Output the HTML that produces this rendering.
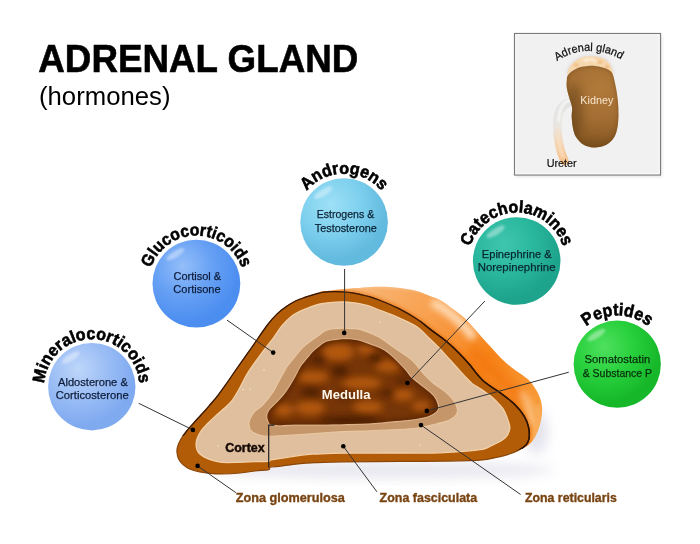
<!DOCTYPE html>
<html><head><meta charset="utf-8"><style>
html,body{margin:0;padding:0;background:#fff;width:700px;height:544px;overflow:hidden}
svg{display:block;will-change:transform}
</style></head><body>
<svg width="700" height="544" viewBox="0 0 700 544" font-family="Liberation Sans, sans-serif">
<defs>
<filter id="blur1" x="-50%" y="-50%" width="200%" height="200%"><feGaussianBlur stdDeviation="1"/></filter>
<filter id="blur15" x="-50%" y="-50%" width="200%" height="200%"><feGaussianBlur stdDeviation="1.5"/></filter>
<filter id="blur3" x="-50%" y="-50%" width="200%" height="200%"><feGaussianBlur stdDeviation="3"/></filter>
<filter id="blur4" x="-50%" y="-50%" width="200%" height="200%"><feGaussianBlur stdDeviation="4"/></filter>
<filter id="blur6" x="-50%" y="-50%" width="200%" height="200%"><feGaussianBlur stdDeviation="6"/></filter>
<linearGradient id="gor" x1="360" y1="285" x2="530" y2="430" gradientUnits="userSpaceOnUse">
<stop offset="0" stop-color="#f8b676"/><stop offset="0.32" stop-color="#f8a04e"/><stop offset="0.65" stop-color="#f7841a"/><stop offset="1" stop-color="#f8a040"/></linearGradient>
<radialGradient id="gkid" cx="600" cy="88" r="62" gradientUnits="userSpaceOnUse">
<stop offset="0" stop-color="#b07a3a"/><stop offset="0.5" stop-color="#a36e33"/><stop offset="1" stop-color="#80531f"/></radialGradient>
<clipPath id="ckid"><path d="M568.0,75.0 C569.2,73.3 572.0,71.3 574.0,70.0 C576.0,68.7 577.7,67.9 580.0,67.2 C582.3,66.5 585.5,66.2 588.0,66.0 C590.5,65.8 592.7,65.8 595.0,66.0 C597.3,66.2 599.8,66.6 602.0,67.2 C604.2,67.8 606.2,68.5 608.0,69.6 C609.8,70.7 611.3,71.3 612.6,74.0 C613.9,76.7 614.7,81.7 615.6,86.0 C616.5,90.3 617.3,95.2 617.8,100.0 C618.3,104.8 618.6,110.0 618.5,115.0 C618.4,120.0 618.0,125.6 617.0,129.7 C616.0,133.8 614.8,136.8 612.6,139.5 C610.4,142.2 607.2,144.5 604.0,145.8 C600.8,147.1 597.0,147.6 593.5,147.4 C590.0,147.2 586.1,146.1 583.2,144.4 C580.3,142.7 577.7,139.7 576.0,137.0 C574.3,134.3 573.7,131.5 573.0,128.2 C572.3,124.9 571.9,120.5 571.7,117.0 C571.5,113.5 572.5,110.3 572.0,107.0 C571.5,103.7 569.9,100.2 569.0,97.0 C568.1,93.8 567.2,90.8 566.8,88.0 C566.4,85.2 566.6,82.2 566.8,80.0 C567.0,77.8 566.8,76.7 568.0,75.0Z"/></clipPath>
<linearGradient id="gure" x1="0" y1="100" x2="0" y2="162" gradientUnits="userSpaceOnUse">
<stop offset="0" stop-color="#e2e2e2"/><stop offset="0.45" stop-color="#e9e5e0"/><stop offset="0.75" stop-color="#f3d2ae"/><stop offset="1" stop-color="#f6c08a"/></linearGradient>
<clipPath id="cmed"><path d="M267.5,414.9 C267.9,412.9 268.8,411.3 270.5,409.1 C272.2,406.9 275.1,404.6 277.8,401.7 C280.5,398.8 283.9,395.1 286.6,391.4 C289.3,387.7 291.7,383.6 294.0,379.6 C296.3,375.6 298.7,370.4 300.4,367.5 C302.1,364.6 302.8,364.1 304.1,362.4 C305.5,360.7 307.0,358.9 308.5,357.2 C310.0,355.5 311.3,353.7 312.9,352.1 C314.5,350.5 316.1,349.2 318.1,347.6 C320.1,346.0 322.9,343.6 325.0,342.5 C327.1,341.4 328.7,341.3 331.0,340.8 C333.3,340.3 335.9,339.9 338.6,339.7 C341.3,339.4 344.2,339.2 347.1,339.3 C350.0,339.4 352.4,339.4 355.7,340.1 C359.0,340.8 362.3,341.8 367.0,343.5 C371.7,345.2 379.1,347.5 383.8,350.2 C388.5,352.9 391.5,356.2 395.0,359.5 C398.5,362.8 402.1,366.7 404.9,369.8 C407.7,372.9 409.1,375.6 411.6,378.1 C414.1,380.6 417.1,382.5 419.8,384.7 C422.6,386.9 425.6,389.1 428.1,391.3 C430.6,393.5 433.1,395.4 434.7,397.9 C436.3,400.4 437.7,404.0 438.0,406.2 C438.3,408.4 438.0,409.5 436.4,411.2 C434.8,412.9 432.2,414.8 428.1,416.2 C424.0,417.6 417.1,418.7 411.6,419.5 C406.1,420.3 401.9,420.5 395.0,421.1 C388.1,421.7 379.2,422.8 370.0,423.3 C360.8,423.8 349.3,424.1 340.0,424.3 C330.7,424.5 321.7,424.4 314.0,424.5 C306.3,424.6 299.5,424.5 294.0,424.6 C288.5,424.7 284.6,425.2 280.8,425.2 C277.0,425.2 273.3,425.3 271.2,424.6 C269.1,423.9 268.9,422.4 268.3,420.8 C267.7,419.2 267.1,416.8 267.5,414.9Z"/></clipPath>
<clipPath id="corange"><path d="M322.0,293.0 C317.0,289.8 327.2,291.4 330.0,290.8 C332.8,290.2 335.7,289.8 339.0,289.4 C342.3,289.0 346.3,288.8 350.0,288.5 C353.7,288.2 357.7,288.0 361.0,287.8 C364.3,287.6 366.8,287.3 370.0,287.1 C373.2,286.9 376.7,286.8 380.0,286.8 C383.3,286.8 386.7,286.8 390.0,287.0 C393.3,287.2 396.7,287.6 400.0,288.0 C403.3,288.4 406.7,288.8 410.0,289.5 C413.3,290.2 416.7,290.9 420.0,292.0 C423.3,293.1 426.7,294.7 430.0,296.0 C433.3,297.3 436.7,298.2 440.0,300.0 C443.3,301.8 446.0,304.0 450.0,306.9 C454.0,309.8 459.2,313.1 464.0,317.6 C468.8,322.1 473.9,328.4 478.8,333.8 C483.7,339.2 489.3,345.5 493.5,350.0 C497.7,354.5 500.4,357.7 504.0,361.0 C507.6,364.3 511.0,367.0 515.0,370.0 C519.0,373.0 524.5,376.1 527.9,379.2 C531.3,382.3 533.3,385.3 535.3,388.4 C537.3,391.5 538.8,394.5 539.9,397.6 C541.0,400.7 541.7,403.7 542.0,406.8 C542.3,409.9 542.1,412.8 541.7,416.0 C541.3,419.2 540.5,422.8 539.5,426.0 C538.5,429.2 537.3,432.3 536.0,435.0 C534.7,437.7 533.2,440.1 531.5,442.0 C529.8,443.9 527.9,445.8 526.0,446.5 C524.1,447.2 523.5,450.4 520.0,446.0 C516.5,441.6 513.3,431.0 505.0,420.0 C496.7,409.0 484.2,393.3 470.0,380.0 C455.8,366.7 438.3,351.7 420.0,340.0 C401.7,328.3 376.3,317.8 360.0,310.0 C343.7,302.2 327.0,296.2 322.0,293.0Z"/></clipPath>
<clipPath id="cstroke"><path d="M0,0 H700 V447 L530,447 L500,455 L300,458 L200,436 L0,436Z"/></clipPath>
<clipPath id="cstroke2"><path d="M420,0 H700 V449 L520,449 L420,320Z"/></clipPath>
<filter id="blur2" x="-50%" y="-50%" width="200%" height="200%"><feGaussianBlur stdDeviation="2"/></filter>
<filter id="blur35" x="-50%" y="-50%" width="200%" height="200%"><feGaussianBlur stdDeviation="3.6"/></filter>
<path id="padr" d="M531.2,110.0 A59.1,59.1 0 0 1 649.4,110.0"/>
<radialGradient id="gb1" cx="331.0" cy="204.5" r="65.7" gradientUnits="userSpaceOnUse">
<stop offset="0" stop-color="#9ee0f6"/><stop offset="0.45" stop-color="#7ed0ee"/><stop offset="0.85" stop-color="#62bade"/><stop offset="1" stop-color="#62bade"/></radialGradient><path id="pb1" d="M295.6,222.0 A48.5,48.5 0 0 1 392.6,222.0"/><radialGradient id="gb2" cx="183.2" cy="266.0" r="65.8" gradientUnits="userSpaceOnUse">
<stop offset="0" stop-color="#94bef9"/><stop offset="0.45" stop-color="#66a0f4"/><stop offset="0.85" stop-color="#4c8ef0"/><stop offset="1" stop-color="#4c8ef0"/></radialGradient><path id="pb2" d="M148.4,283.6 A48,48 0 0 1 244.4,283.6"/><radialGradient id="gb3" cx="78.7" cy="369.2" r="65.6" gradientUnits="userSpaceOnUse">
<stop offset="0" stop-color="#bed6fa"/><stop offset="0.45" stop-color="#9abdf5"/><stop offset="0.85" stop-color="#80aaf0"/><stop offset="1" stop-color="#80aaf0"/></radialGradient><path id="pb3" d="M44.2,386.7 A47.6,47.6 0 0 1 139.4,386.7"/><radialGradient id="gb4" cx="503.6" cy="243.5" r="65.7" gradientUnits="userSpaceOnUse">
<stop offset="0" stop-color="#40c6ae"/><stop offset="0.45" stop-color="#29b89e"/><stop offset="0.85" stop-color="#1ea48c"/><stop offset="1" stop-color="#1ea48c"/></radialGradient><path id="pb4" d="M468.2,261.0 A48.5,48.5 0 0 1 565.2,261.0"/><radialGradient id="gb5" cx="604.2" cy="346.8" r="65.4" gradientUnits="userSpaceOnUse">
<stop offset="0" stop-color="#4ee05e"/><stop offset="0.45" stop-color="#28d03c"/><stop offset="0.85" stop-color="#16b82a"/><stop offset="1" stop-color="#16b82a"/></radialGradient><path id="pb5" d="M568.5,364.2 A48.7,48.7 0 0 1 666.0,364.2"/>
</defs>
<text x="38.3" y="72.4" font-weight="bold" font-size="39" fill="#000" stroke="#000" stroke-width="0.6" textLength="320" lengthAdjust="spacingAndGlyphs">ADRENAL GLAND</text>
<text x="39" y="105.3" font-size="25" fill="#000" textLength="131.5" lengthAdjust="spacingAndGlyphs">(hormones)</text>

<!-- inset -->
<rect x="516" y="35.5" width="146" height="141.5" fill="#e4e4e4" filter="url(#blur15)"/>
<rect x="514.5" y="33.5" width="146" height="141.5" fill="#f1f1f1" stroke="#7c7c7c" stroke-width="1.2"/>
<rect x="515.8" y="34.8" width="143.4" height="138.9" fill="none" stroke="#fafafa" stroke-width="1"/>
<path d="M574,102 C563,102 557.5,110 557.3,124 C557.2,139 559.5,150 564.5,161" fill="none" stroke="url(#gure)" stroke-width="8.5" stroke-linecap="round"/>
<path d="M572,100 C563,100.5 559,108 558.6,122" fill="none" stroke="#ffffff" stroke-width="2.5" opacity="0.8" filter="url(#blur1)"/>
<path d="M558,128 C558,140 560,150 563.5,158" fill="none" stroke="#fde2c2" stroke-width="2.5" opacity="0.8" filter="url(#blur1)"/>
<path d="M567.3,74.0 C566.5,73.7 568.0,69.9 569.0,68.0 C570.0,66.1 571.8,64.1 573.5,62.5 C575.2,60.9 576.9,59.6 579.0,58.6 C581.1,57.6 583.5,57.0 586.0,56.6 C588.5,56.2 591.5,56.4 594.0,56.5 C596.5,56.6 598.9,56.8 601.0,57.5 C603.1,58.2 604.9,59.2 606.5,60.5 C608.1,61.8 609.5,63.7 610.5,65.5 C611.5,67.3 612.4,70.0 612.8,71.5 C613.1,73.0 613.4,74.8 612.6,74.5 C611.8,74.2 609.8,70.8 608.0,69.6 C606.2,68.4 604.2,67.8 602.0,67.2 C599.8,66.6 597.3,66.2 595.0,66.0 C592.7,65.8 590.5,65.8 588.0,66.0 C585.5,66.2 582.3,66.5 580.0,67.2 C577.7,67.9 576.1,68.9 574.0,70.0 C571.9,71.1 568.1,74.3 567.3,74.0Z" fill="#c8c8d2" opacity="0.7" filter="url(#blur2)"/>
<path d="M567.3,74.0 C566.5,73.7 568.0,69.9 569.0,68.0 C570.0,66.1 571.8,64.1 573.5,62.5 C575.2,60.9 576.9,59.6 579.0,58.6 C581.1,57.6 583.5,57.0 586.0,56.6 C588.5,56.2 591.5,56.4 594.0,56.5 C596.5,56.6 598.9,56.8 601.0,57.5 C603.1,58.2 604.9,59.2 606.5,60.5 C608.1,61.8 609.5,63.7 610.5,65.5 C611.5,67.3 612.4,70.0 612.8,71.5 C613.1,73.0 613.4,74.8 612.6,74.5 C611.8,74.2 609.8,70.8 608.0,69.6 C606.2,68.4 604.2,67.8 602.0,67.2 C599.8,66.6 597.3,66.2 595.0,66.0 C592.7,65.8 590.5,65.8 588.0,66.0 C585.5,66.2 582.3,66.5 580.0,67.2 C577.7,67.9 576.1,68.9 574.0,70.0 C571.9,71.1 568.1,74.3 567.3,74.0Z" fill="#f7d8ae"/>
<g filter="url(#blur1)" fill="#eeae6c" opacity="0.8">
<ellipse cx="576" cy="65" rx="2.5" ry="1.5"/><ellipse cx="590" cy="61" rx="2" ry="1.3"/><ellipse cx="600" cy="62" rx="2.5" ry="1.4"/>
<ellipse cx="607" cy="67" rx="2" ry="2"/><ellipse cx="583" cy="60" rx="1.6" ry="1.2"/><ellipse cx="596" cy="59" rx="1.5" ry="1"/>
</g>
<ellipse cx="589" cy="60" rx="9" ry="2" fill="#fff4e4" opacity="0.7" filter="url(#blur1)"/>
<path d="M568.0,75.0 C569.2,73.3 572.0,71.3 574.0,70.0 C576.0,68.7 577.7,67.9 580.0,67.2 C582.3,66.5 585.5,66.2 588.0,66.0 C590.5,65.8 592.7,65.8 595.0,66.0 C597.3,66.2 599.8,66.6 602.0,67.2 C604.2,67.8 606.2,68.5 608.0,69.6 C609.8,70.7 611.3,71.3 612.6,74.0 C613.9,76.7 614.7,81.7 615.6,86.0 C616.5,90.3 617.3,95.2 617.8,100.0 C618.3,104.8 618.6,110.0 618.5,115.0 C618.4,120.0 618.0,125.6 617.0,129.7 C616.0,133.8 614.8,136.8 612.6,139.5 C610.4,142.2 607.2,144.5 604.0,145.8 C600.8,147.1 597.0,147.6 593.5,147.4 C590.0,147.2 586.1,146.1 583.2,144.4 C580.3,142.7 577.7,139.7 576.0,137.0 C574.3,134.3 573.7,131.5 573.0,128.2 C572.3,124.9 571.9,120.5 571.7,117.0 C571.5,113.5 572.5,110.3 572.0,107.0 C571.5,103.7 569.9,100.2 569.0,97.0 C568.1,93.8 567.2,90.8 566.8,88.0 C566.4,85.2 566.6,82.2 566.8,80.0 C567.0,77.8 566.8,76.7 568.0,75.0Z" fill="url(#gkid)"/>
<g clip-path="url(#ckid)"><ellipse cx="574" cy="112" rx="9" ry="28" fill="#5e3c16" opacity="0.45" filter="url(#blur4)"/>
<ellipse cx="596" cy="146" rx="22" ry="6" fill="#6a4418" opacity="0.35" filter="url(#blur3)"/></g>
<path d="M568.0,75.0 C569.2,73.3 572.0,71.3 574.0,70.0 C576.0,68.7 577.7,67.9 580.0,67.2 C582.3,66.5 585.5,66.2 588.0,66.0 C590.5,65.8 592.7,65.8 595.0,66.0 C597.3,66.2 599.8,66.6 602.0,67.2 C604.2,67.8 606.2,68.5 608.0,69.6 C609.8,70.7 611.3,71.3 612.6,74.0 C613.9,76.7 614.7,81.7 615.6,86.0 C616.5,90.3 617.3,95.2 617.8,100.0 C618.3,104.8 618.6,110.0 618.5,115.0 C618.4,120.0 618.0,125.6 617.0,129.7 C616.0,133.8 614.8,136.8 612.6,139.5 C610.4,142.2 607.2,144.5 604.0,145.8 C600.8,147.1 597.0,147.6 593.5,147.4 C590.0,147.2 586.1,146.1 583.2,144.4 C580.3,142.7 577.7,139.7 576.0,137.0 C574.3,134.3 573.7,131.5 573.0,128.2 C572.3,124.9 571.9,120.5 571.7,117.0 C571.5,113.5 572.5,110.3 572.0,107.0 C571.5,103.7 569.9,100.2 569.0,97.0 C568.1,93.8 567.2,90.8 566.8,88.0 C566.4,85.2 566.6,82.2 566.8,80.0 C567.0,77.8 566.8,76.7 568.0,75.0Z" fill="none" stroke="#6a4218" stroke-width="3" opacity="0.3" filter="url(#blur15)" clip-path="url(#ckid)"/>
<text x="580.3" y="103.7" font-size="11.3" fill="#f6e6cf" textLength="33" lengthAdjust="spacingAndGlyphs">Kidney</text>
<text x="546.7" y="167.4" font-size="11" fill="#111" stroke="#111" stroke-width="0.2" textLength="30" lengthAdjust="spacingAndGlyphs">Ureter</text>
<text font-size="11.5" fill="#111" stroke="#111" stroke-width="0.25"><textPath href="#padr" startOffset="91.2" text-anchor="middle" textLength="67.5" lengthAdjust="spacingAndGlyphs">Adrenal gland</textPath></text>

<!-- gland shadow -->
<ellipse cx="385" cy="470" rx="170" ry="8" fill="#c8c8da" opacity="0.45" filter="url(#blur6)"/>
<ellipse cx="536" cy="432" rx="12" ry="22" fill="#c8c8dc" opacity="0.5" filter="url(#blur6)"/>
<!-- orange side -->
<path d="M322.0,293.0 C317.0,289.8 327.2,291.4 330.0,290.8 C332.8,290.2 335.7,289.8 339.0,289.4 C342.3,289.0 346.3,288.8 350.0,288.5 C353.7,288.2 357.7,288.0 361.0,287.8 C364.3,287.6 366.8,287.3 370.0,287.1 C373.2,286.9 376.7,286.8 380.0,286.8 C383.3,286.8 386.7,286.8 390.0,287.0 C393.3,287.2 396.7,287.6 400.0,288.0 C403.3,288.4 406.7,288.8 410.0,289.5 C413.3,290.2 416.7,290.9 420.0,292.0 C423.3,293.1 426.7,294.7 430.0,296.0 C433.3,297.3 436.7,298.2 440.0,300.0 C443.3,301.8 446.0,304.0 450.0,306.9 C454.0,309.8 459.2,313.1 464.0,317.6 C468.8,322.1 473.9,328.4 478.8,333.8 C483.7,339.2 489.3,345.5 493.5,350.0 C497.7,354.5 500.4,357.7 504.0,361.0 C507.6,364.3 511.0,367.0 515.0,370.0 C519.0,373.0 524.5,376.1 527.9,379.2 C531.3,382.3 533.3,385.3 535.3,388.4 C537.3,391.5 538.8,394.5 539.9,397.6 C541.0,400.7 541.7,403.7 542.0,406.8 C542.3,409.9 542.1,412.8 541.7,416.0 C541.3,419.2 540.5,422.8 539.5,426.0 C538.5,429.2 537.3,432.3 536.0,435.0 C534.7,437.7 533.2,440.1 531.5,442.0 C529.8,443.9 527.9,445.8 526.0,446.5 C524.1,447.2 523.5,450.4 520.0,446.0 C516.5,441.6 513.3,431.0 505.0,420.0 C496.7,409.0 484.2,393.3 470.0,380.0 C455.8,366.7 438.3,351.7 420.0,340.0 C401.7,328.3 376.3,317.8 360.0,310.0 C343.7,302.2 327.0,296.2 322.0,293.0Z" fill="url(#gor)"/>
<g clip-path="url(#corange)">
<path d="M325,286 C360,285 400,285 430,292" fill="none" stroke="#fbd2a6" stroke-width="3" opacity="0.6" filter="url(#blur15)"/>
<path d="M432,302 C448,310 462,322 474,338" fill="none" stroke="#fed8b0" stroke-width="9" opacity="1" filter="url(#blur3)"/>
<path d="M470,350 C488,368 505,382 522,400" fill="none" stroke="#f37608" stroke-width="14" opacity="0.75" filter="url(#blur4)"/>
<path d="M521,392 C529,401 532,413 531,426" fill="none" stroke="#fdd0a0" stroke-width="6" opacity="0.75" filter="url(#blur3)"/>
<path d="M538,405 C540,418 538,430 532,440" fill="none" stroke="#fbb870" stroke-width="5" opacity="0.7" filter="url(#blur2)"/>
<path d="M177.0,452.5 C176.8,450.5 176.9,449.2 177.5,447.0 C178.1,444.8 179.3,441.9 180.8,439.3 C182.3,436.7 184.1,434.3 186.3,431.5 C188.5,428.7 191.6,425.4 194.0,422.7 C196.4,419.9 198.5,417.8 201.0,415.0 C203.5,412.2 206.3,409.2 209.2,405.8 C212.1,402.4 215.3,398.8 218.4,394.8 C221.5,390.8 224.7,386.1 227.6,382.0 C230.5,377.9 231.9,375.6 235.8,370.0 C239.7,364.4 245.7,356.0 251.0,348.5 C256.3,341.0 263.0,330.8 267.4,325.0 C271.8,319.2 274.0,317.0 277.2,313.9 C280.4,310.8 283.3,308.6 286.4,306.5 C289.5,304.4 292.5,302.5 295.6,301.0 C298.7,299.5 301.1,298.7 304.8,297.4 C308.5,296.1 314.4,294.2 318.0,293.3 C321.6,292.4 323.8,292.1 326.6,291.8 C329.5,291.5 332.2,291.6 335.1,291.6 C338.0,291.6 340.8,291.8 343.7,292.0 C346.6,292.2 349.4,292.5 352.3,292.9 C355.2,293.3 358.0,294.0 360.8,294.6 C363.6,295.2 366.4,295.8 369.4,296.7 C372.4,297.6 374.2,298.1 379.0,300.0 C383.8,301.9 392.1,305.2 398.4,308.4 C404.7,311.6 411.5,315.6 416.8,319.0 C422.1,322.4 425.1,325.4 430.0,329.1 C434.9,332.9 441.9,337.7 446.5,341.5 C451.1,345.3 453.8,347.9 457.6,351.7 C461.4,355.5 466.5,361.0 469.5,364.5 C472.5,368.0 473.6,369.9 475.8,372.6 C478.1,375.3 480.6,378.4 483.0,380.6 C485.4,382.9 487.7,384.2 490.3,386.1 C492.9,388.0 496.0,389.9 498.6,391.7 C501.2,393.5 503.2,395.0 506.0,397.2 C508.8,399.4 512.3,401.9 515.3,405.0 C518.3,408.1 521.9,412.3 524.1,416.0 C526.3,419.7 527.7,423.3 528.5,427.0 C529.3,430.7 529.5,435.2 529.1,438.1 C528.7,441.1 528.0,442.7 526.3,444.7 C524.5,446.7 521.7,448.5 518.6,450.2 C515.5,451.9 511.3,453.4 507.6,454.6 C503.9,455.8 501.1,456.5 496.5,457.4 C491.9,458.3 489.4,459.5 480.0,460.1 C470.6,460.7 453.3,461.0 440.0,461.2 C426.7,461.4 416.2,461.3 400.0,461.4 C383.8,461.5 357.2,461.8 343.0,462.0 C328.8,462.2 321.1,462.5 315.0,462.7 C308.9,462.9 310.0,462.8 306.4,463.1 C302.8,463.4 297.9,463.9 293.6,464.4 C289.3,464.9 284.6,465.6 280.7,466.1 C276.8,466.6 272.0,466.7 270.0,467.3 C268.0,467.9 271.2,469.0 268.7,469.6 C266.2,470.2 259.8,470.4 255.0,471.0 C250.2,471.6 245.5,472.5 240.0,473.0 C234.5,473.5 226.9,473.9 222.0,474.0 C217.1,474.1 214.3,473.8 210.6,473.4 C206.9,473.0 203.1,472.5 199.6,471.8 C196.1,471.1 192.4,470.2 189.6,469.0 C186.8,467.8 184.8,466.2 183.0,464.6 C181.2,463.0 179.6,461.1 178.6,459.1 C177.6,457.1 177.2,454.5 177.0,452.5Z" fill="none" stroke="#e8700a" stroke-width="5" opacity="0.6" filter="url(#blur15)"/>
</g>
<!-- front face -->
<path d="M177.0,452.5 C176.8,450.5 176.9,449.2 177.5,447.0 C178.1,444.8 179.3,441.9 180.8,439.3 C182.3,436.7 184.1,434.3 186.3,431.5 C188.5,428.7 191.6,425.4 194.0,422.7 C196.4,419.9 198.5,417.8 201.0,415.0 C203.5,412.2 206.3,409.2 209.2,405.8 C212.1,402.4 215.3,398.8 218.4,394.8 C221.5,390.8 224.7,386.1 227.6,382.0 C230.5,377.9 231.9,375.6 235.8,370.0 C239.7,364.4 245.7,356.0 251.0,348.5 C256.3,341.0 263.0,330.8 267.4,325.0 C271.8,319.2 274.0,317.0 277.2,313.9 C280.4,310.8 283.3,308.6 286.4,306.5 C289.5,304.4 292.5,302.5 295.6,301.0 C298.7,299.5 301.1,298.7 304.8,297.4 C308.5,296.1 314.4,294.2 318.0,293.3 C321.6,292.4 323.8,292.1 326.6,291.8 C329.5,291.5 332.2,291.6 335.1,291.6 C338.0,291.6 340.8,291.8 343.7,292.0 C346.6,292.2 349.4,292.5 352.3,292.9 C355.2,293.3 358.0,294.0 360.8,294.6 C363.6,295.2 366.4,295.8 369.4,296.7 C372.4,297.6 374.2,298.1 379.0,300.0 C383.8,301.9 392.1,305.2 398.4,308.4 C404.7,311.6 411.5,315.6 416.8,319.0 C422.1,322.4 425.1,325.4 430.0,329.1 C434.9,332.9 441.9,337.7 446.5,341.5 C451.1,345.3 453.8,347.9 457.6,351.7 C461.4,355.5 466.5,361.0 469.5,364.5 C472.5,368.0 473.6,369.9 475.8,372.6 C478.1,375.3 480.6,378.4 483.0,380.6 C485.4,382.9 487.7,384.2 490.3,386.1 C492.9,388.0 496.0,389.9 498.6,391.7 C501.2,393.5 503.2,395.0 506.0,397.2 C508.8,399.4 512.3,401.9 515.3,405.0 C518.3,408.1 521.9,412.3 524.1,416.0 C526.3,419.7 527.7,423.3 528.5,427.0 C529.3,430.7 529.5,435.2 529.1,438.1 C528.7,441.1 528.0,442.7 526.3,444.7 C524.5,446.7 521.7,448.5 518.6,450.2 C515.5,451.9 511.3,453.4 507.6,454.6 C503.9,455.8 501.1,456.5 496.5,457.4 C491.9,458.3 489.4,459.5 480.0,460.1 C470.6,460.7 453.3,461.0 440.0,461.2 C426.7,461.4 416.2,461.3 400.0,461.4 C383.8,461.5 357.2,461.8 343.0,462.0 C328.8,462.2 321.1,462.5 315.0,462.7 C308.9,462.9 310.0,462.8 306.4,463.1 C302.8,463.4 297.9,463.9 293.6,464.4 C289.3,464.9 284.6,465.6 280.7,466.1 C276.8,466.6 272.0,466.7 270.0,467.3 C268.0,467.9 271.2,469.0 268.7,469.6 C266.2,470.2 259.8,470.4 255.0,471.0 C250.2,471.6 245.5,472.5 240.0,473.0 C234.5,473.5 226.9,473.9 222.0,474.0 C217.1,474.1 214.3,473.8 210.6,473.4 C206.9,473.0 203.1,472.5 199.6,471.8 C196.1,471.1 192.4,470.2 189.6,469.0 C186.8,467.8 184.8,466.2 183.0,464.6 C181.2,463.0 179.6,461.1 178.6,459.1 C177.6,457.1 177.2,454.5 177.0,452.5Z" fill="#b35c07"/>
<path d="M177.0,452.5 C176.8,450.5 176.9,449.2 177.5,447.0 C178.1,444.8 179.3,441.9 180.8,439.3 C182.3,436.7 184.1,434.3 186.3,431.5 C188.5,428.7 191.6,425.4 194.0,422.7 C196.4,419.9 198.5,417.8 201.0,415.0 C203.5,412.2 206.3,409.2 209.2,405.8 C212.1,402.4 215.3,398.8 218.4,394.8 C221.5,390.8 224.7,386.1 227.6,382.0 C230.5,377.9 231.9,375.6 235.8,370.0 C239.7,364.4 245.7,356.0 251.0,348.5 C256.3,341.0 263.0,330.8 267.4,325.0 C271.8,319.2 274.0,317.0 277.2,313.9 C280.4,310.8 283.3,308.6 286.4,306.5 C289.5,304.4 292.5,302.5 295.6,301.0 C298.7,299.5 301.1,298.7 304.8,297.4 C308.5,296.1 314.4,294.2 318.0,293.3 C321.6,292.4 323.8,292.1 326.6,291.8 C329.5,291.5 332.2,291.6 335.1,291.6 C338.0,291.6 340.8,291.8 343.7,292.0 C346.6,292.2 349.4,292.5 352.3,292.9 C355.2,293.3 358.0,294.0 360.8,294.6 C363.6,295.2 366.4,295.8 369.4,296.7 C372.4,297.6 374.2,298.1 379.0,300.0 C383.8,301.9 392.1,305.2 398.4,308.4 C404.7,311.6 411.5,315.6 416.8,319.0 C422.1,322.4 425.1,325.4 430.0,329.1 C434.9,332.9 441.9,337.7 446.5,341.5 C451.1,345.3 453.8,347.9 457.6,351.7 C461.4,355.5 466.5,361.0 469.5,364.5 C472.5,368.0 473.6,369.9 475.8,372.6 C478.1,375.3 480.6,378.4 483.0,380.6 C485.4,382.9 487.7,384.2 490.3,386.1 C492.9,388.0 496.0,389.9 498.6,391.7 C501.2,393.5 503.2,395.0 506.0,397.2 C508.8,399.4 512.3,401.9 515.3,405.0 C518.3,408.1 521.9,412.3 524.1,416.0 C526.3,419.7 527.7,423.3 528.5,427.0 C529.3,430.7 529.5,435.2 529.1,438.1 C528.7,441.1 528.0,442.7 526.3,444.7 C524.5,446.7 521.7,448.5 518.6,450.2 C515.5,451.9 511.3,453.4 507.6,454.6 C503.9,455.8 501.1,456.5 496.5,457.4 C491.9,458.3 489.4,459.5 480.0,460.1 C470.6,460.7 453.3,461.0 440.0,461.2 C426.7,461.4 416.2,461.3 400.0,461.4 C383.8,461.5 357.2,461.8 343.0,462.0 C328.8,462.2 321.1,462.5 315.0,462.7 C308.9,462.9 310.0,462.8 306.4,463.1 C302.8,463.4 297.9,463.9 293.6,464.4 C289.3,464.9 284.6,465.6 280.7,466.1 C276.8,466.6 272.0,466.7 270.0,467.3 C268.0,467.9 271.2,469.0 268.7,469.6 C266.2,470.2 259.8,470.4 255.0,471.0 C250.2,471.6 245.5,472.5 240.0,473.0 C234.5,473.5 226.9,473.9 222.0,474.0 C217.1,474.1 214.3,473.8 210.6,473.4 C206.9,473.0 203.1,472.5 199.6,471.8 C196.1,471.1 192.4,470.2 189.6,469.0 C186.8,467.8 184.8,466.2 183.0,464.6 C181.2,463.0 179.6,461.1 178.6,459.1 C177.6,457.1 177.2,454.5 177.0,452.5Z" fill="none" stroke="#8a4608" stroke-width="1.2"/>
<path d="M177.0,452.5 C176.8,450.5 176.9,449.2 177.5,447.0 C178.1,444.8 179.3,441.9 180.8,439.3 C182.3,436.7 184.1,434.3 186.3,431.5 C188.5,428.7 191.6,425.4 194.0,422.7 C196.4,419.9 198.5,417.8 201.0,415.0 C203.5,412.2 206.3,409.2 209.2,405.8 C212.1,402.4 215.3,398.8 218.4,394.8 C221.5,390.8 224.7,386.1 227.6,382.0 C230.5,377.9 231.9,375.6 235.8,370.0 C239.7,364.4 245.7,356.0 251.0,348.5 C256.3,341.0 263.0,330.8 267.4,325.0 C271.8,319.2 274.0,317.0 277.2,313.9 C280.4,310.8 283.3,308.6 286.4,306.5 C289.5,304.4 292.5,302.5 295.6,301.0 C298.7,299.5 301.1,298.7 304.8,297.4 C308.5,296.1 314.4,294.2 318.0,293.3 C321.6,292.4 323.8,292.1 326.6,291.8 C329.5,291.5 332.2,291.6 335.1,291.6 C338.0,291.6 340.8,291.8 343.7,292.0 C346.6,292.2 349.4,292.5 352.3,292.9 C355.2,293.3 358.0,294.0 360.8,294.6 C363.6,295.2 366.4,295.8 369.4,296.7 C372.4,297.6 374.2,298.1 379.0,300.0 C383.8,301.9 392.1,305.2 398.4,308.4 C404.7,311.6 411.5,315.6 416.8,319.0 C422.1,322.4 425.1,325.4 430.0,329.1 C434.9,332.9 441.9,337.7 446.5,341.5 C451.1,345.3 453.8,347.9 457.6,351.7 C461.4,355.5 466.5,361.0 469.5,364.5 C472.5,368.0 473.6,369.9 475.8,372.6 C478.1,375.3 480.6,378.4 483.0,380.6 C485.4,382.9 487.7,384.2 490.3,386.1 C492.9,388.0 496.0,389.9 498.6,391.7 C501.2,393.5 503.2,395.0 506.0,397.2 C508.8,399.4 512.3,401.9 515.3,405.0 C518.3,408.1 521.9,412.3 524.1,416.0 C526.3,419.7 527.7,423.3 528.5,427.0 C529.3,430.7 529.5,435.2 529.1,438.1 C528.7,441.1 528.0,442.7 526.3,444.7 C524.5,446.7 521.7,448.5 518.6,450.2 C515.5,451.9 511.3,453.4 507.6,454.6 C503.9,455.8 501.1,456.5 496.5,457.4 C491.9,458.3 489.4,459.5 480.0,460.1 C470.6,460.7 453.3,461.0 440.0,461.2 C426.7,461.4 416.2,461.3 400.0,461.4 C383.8,461.5 357.2,461.8 343.0,462.0 C328.8,462.2 321.1,462.5 315.0,462.7 C308.9,462.9 310.0,462.8 306.4,463.1 C302.8,463.4 297.9,463.9 293.6,464.4 C289.3,464.9 284.6,465.6 280.7,466.1 C276.8,466.6 272.0,466.7 270.0,467.3 C268.0,467.9 271.2,469.0 268.7,469.6 C266.2,470.2 259.8,470.4 255.0,471.0 C250.2,471.6 245.5,472.5 240.0,473.0 C234.5,473.5 226.9,473.9 222.0,474.0 C217.1,474.1 214.3,473.8 210.6,473.4 C206.9,473.0 203.1,472.5 199.6,471.8 C196.1,471.1 192.4,470.2 189.6,469.0 C186.8,467.8 184.8,466.2 183.0,464.6 C181.2,463.0 179.6,461.1 178.6,459.1 C177.6,457.1 177.2,454.5 177.0,452.5Z" fill="none" stroke="#3a1a05" stroke-width="1.25" clip-path="url(#cstroke)"/>
<path d="M177.0,452.5 C176.8,450.5 176.9,449.2 177.5,447.0 C178.1,444.8 179.3,441.9 180.8,439.3 C182.3,436.7 184.1,434.3 186.3,431.5 C188.5,428.7 191.6,425.4 194.0,422.7 C196.4,419.9 198.5,417.8 201.0,415.0 C203.5,412.2 206.3,409.2 209.2,405.8 C212.1,402.4 215.3,398.8 218.4,394.8 C221.5,390.8 224.7,386.1 227.6,382.0 C230.5,377.9 231.9,375.6 235.8,370.0 C239.7,364.4 245.7,356.0 251.0,348.5 C256.3,341.0 263.0,330.8 267.4,325.0 C271.8,319.2 274.0,317.0 277.2,313.9 C280.4,310.8 283.3,308.6 286.4,306.5 C289.5,304.4 292.5,302.5 295.6,301.0 C298.7,299.5 301.1,298.7 304.8,297.4 C308.5,296.1 314.4,294.2 318.0,293.3 C321.6,292.4 323.8,292.1 326.6,291.8 C329.5,291.5 332.2,291.6 335.1,291.6 C338.0,291.6 340.8,291.8 343.7,292.0 C346.6,292.2 349.4,292.5 352.3,292.9 C355.2,293.3 358.0,294.0 360.8,294.6 C363.6,295.2 366.4,295.8 369.4,296.7 C372.4,297.6 374.2,298.1 379.0,300.0 C383.8,301.9 392.1,305.2 398.4,308.4 C404.7,311.6 411.5,315.6 416.8,319.0 C422.1,322.4 425.1,325.4 430.0,329.1 C434.9,332.9 441.9,337.7 446.5,341.5 C451.1,345.3 453.8,347.9 457.6,351.7 C461.4,355.5 466.5,361.0 469.5,364.5 C472.5,368.0 473.6,369.9 475.8,372.6 C478.1,375.3 480.6,378.4 483.0,380.6 C485.4,382.9 487.7,384.2 490.3,386.1 C492.9,388.0 496.0,389.9 498.6,391.7 C501.2,393.5 503.2,395.0 506.0,397.2 C508.8,399.4 512.3,401.9 515.3,405.0 C518.3,408.1 521.9,412.3 524.1,416.0 C526.3,419.7 527.7,423.3 528.5,427.0 C529.3,430.7 529.5,435.2 529.1,438.1 C528.7,441.1 528.0,442.7 526.3,444.7 C524.5,446.7 521.7,448.5 518.6,450.2 C515.5,451.9 511.3,453.4 507.6,454.6 C503.9,455.8 501.1,456.5 496.5,457.4 C491.9,458.3 489.4,459.5 480.0,460.1 C470.6,460.7 453.3,461.0 440.0,461.2 C426.7,461.4 416.2,461.3 400.0,461.4 C383.8,461.5 357.2,461.8 343.0,462.0 C328.8,462.2 321.1,462.5 315.0,462.7 C308.9,462.9 310.0,462.8 306.4,463.1 C302.8,463.4 297.9,463.9 293.6,464.4 C289.3,464.9 284.6,465.6 280.7,466.1 C276.8,466.6 272.0,466.7 270.0,467.3 C268.0,467.9 271.2,469.0 268.7,469.6 C266.2,470.2 259.8,470.4 255.0,471.0 C250.2,471.6 245.5,472.5 240.0,473.0 C234.5,473.5 226.9,473.9 222.0,474.0 C217.1,474.1 214.3,473.8 210.6,473.4 C206.9,473.0 203.1,472.5 199.6,471.8 C196.1,471.1 192.4,470.2 189.6,469.0 C186.8,467.8 184.8,466.2 183.0,464.6 C181.2,463.0 179.6,461.1 178.6,459.1 C177.6,457.1 177.2,454.5 177.0,452.5Z" fill="none" stroke="#2e1403" stroke-width="1.5" clip-path="url(#cstroke2)"/>
<path d="M196.3,447.0 C196.0,444.8 196.1,441.9 196.8,439.3 C197.5,436.7 198.8,434.3 200.7,431.5 C202.6,428.7 205.9,425.3 208.4,422.7 C210.9,420.1 213.0,418.4 215.6,416.0 C218.2,413.6 221.1,411.2 223.9,408.6 C226.7,406.0 229.6,403.7 232.2,400.3 C234.8,396.9 236.9,393.0 239.5,388.4 C242.1,383.8 244.0,378.9 247.8,372.8 C251.7,366.7 258.3,357.7 262.6,351.9 C266.9,346.1 270.3,342.1 273.5,337.8 C276.7,333.5 278.9,329.3 281.8,325.8 C284.7,322.3 287.9,319.1 291.0,316.7 C294.1,314.2 297.1,312.7 300.2,311.1 C303.3,309.6 306.1,308.6 309.4,307.4 C312.7,306.2 316.2,304.9 320.0,304.0 C323.8,303.1 328.1,302.6 332.0,302.3 C335.9,302.0 340.3,301.9 343.7,302.0 C347.1,302.1 349.4,302.3 352.3,302.6 C355.2,302.9 358.0,303.4 360.8,304.0 C363.6,304.6 366.5,305.2 369.4,306.1 C372.3,307.0 373.2,307.6 378.0,309.5 C382.8,311.4 391.9,314.7 398.4,317.6 C404.9,320.5 411.5,323.2 416.8,326.8 C422.1,330.4 426.3,335.5 430.0,339.0 C433.7,342.5 436.1,344.8 439.2,348.0 C442.3,351.2 445.3,354.7 448.4,358.1 C451.5,361.5 454.8,365.1 457.6,368.2 C460.5,371.3 463.1,374.5 465.5,377.0 C467.9,379.5 469.9,381.6 472.0,383.4 C474.1,385.1 476.3,386.1 478.4,387.5 C480.5,388.9 482.5,390.1 484.8,391.7 C487.1,393.3 489.9,395.2 492.2,397.2 C494.5,399.2 496.8,401.6 498.6,403.6 C500.4,405.6 501.9,407.0 503.2,409.1 C504.5,411.2 505.4,413.0 506.5,416.0 C507.6,419.0 509.6,423.9 509.8,427.0 C510.0,430.1 508.9,432.6 507.6,434.8 C506.3,437.0 504.8,438.5 502.0,440.3 C499.2,442.1 494.7,444.2 491.0,445.8 C487.3,447.4 488.5,448.5 480.0,449.7 C471.5,450.9 453.3,452.2 440.0,452.8 C426.7,453.4 416.2,452.9 400.0,453.0 C383.8,453.1 357.2,453.0 343.0,453.2 C328.8,453.4 321.1,453.9 315.0,454.1 C308.9,454.3 310.0,454.2 306.4,454.6 C302.8,455.0 297.9,455.7 293.6,456.3 C289.3,456.9 284.6,457.8 280.7,458.4 C276.8,459.0 272.0,459.6 270.0,460.1 C268.0,460.6 271.2,461.1 268.7,461.4 C266.2,461.6 259.8,461.5 255.0,461.6 C250.2,461.8 245.5,462.2 240.0,462.3 C234.5,462.4 226.7,462.8 222.0,462.4 C217.3,462.0 214.7,461.1 211.7,460.2 C208.7,459.3 206.2,458.2 204.0,456.9 C201.8,455.6 199.8,454.1 198.5,452.5 C197.2,450.9 196.6,449.2 196.3,447.0Z" fill="#e0bf9f" stroke="#f2d0a8" stroke-width="1.3"/>
<g fill="#fbefe0" opacity="0.75"><circle cx="264" cy="370" r="0.8"/><circle cx="243" cy="389.5" r="0.8"/><circle cx="250" cy="389.3" r="0.8"/><circle cx="218" cy="446" r="0.8"/><circle cx="300" cy="390" r="0.7"/><circle cx="420" cy="445" r="0.7"/><circle cx="380" cy="322" r="0.7"/></g>
<path d="M249.1,425.2 C248.8,423.2 249.0,421.6 249.9,419.4 C250.8,417.2 252.1,414.5 254.3,412.0 C256.5,409.5 259.9,408.0 263.1,404.6 C266.3,401.2 270.4,395.9 273.4,391.4 C276.3,386.9 278.4,381.7 280.8,377.5 C283.2,373.3 285.6,368.9 287.5,366.0 C289.4,363.1 290.7,362.1 292.4,360.0 C294.1,357.9 295.7,355.7 297.5,353.5 C299.3,351.3 301.2,349.0 303.4,346.9 C305.6,344.8 308.2,342.8 310.7,341.0 C313.1,339.2 315.6,337.6 318.1,335.9 C320.6,334.1 323.0,331.7 325.7,330.5 C328.4,329.3 331.4,329.0 334.3,328.6 C337.2,328.2 340.0,328.1 342.8,328.1 C345.6,328.1 348.5,328.4 351.4,328.6 C354.3,328.8 355.6,328.1 360.0,329.4 C364.4,330.7 372.2,333.4 378.0,336.5 C383.8,339.6 389.4,344.4 395.0,348.3 C400.6,352.2 406.9,355.8 411.6,359.9 C416.3,364.0 419.5,369.2 423.1,373.1 C426.7,377.0 429.5,380.0 433.1,383.0 C436.7,386.0 441.4,388.5 444.7,391.3 C448.0,394.1 450.9,396.8 453.0,399.6 C455.1,402.4 456.6,405.4 457.1,407.9 C457.7,410.4 457.6,412.5 456.3,414.5 C455.1,416.5 452.9,418.4 449.6,420.0 C446.3,421.6 441.4,422.7 436.4,424.0 C431.4,425.3 425.3,426.9 419.8,427.8 C414.3,428.7 411.6,428.7 403.3,429.2 C395.0,429.7 380.6,430.4 370.0,430.8 C359.4,431.2 351.7,431.2 340.0,431.8 C328.3,432.4 311.8,433.8 300.0,434.5 C288.2,435.2 275.9,436.2 269.0,436.3 C262.1,436.4 261.6,435.7 258.7,434.8 C255.8,433.9 253.0,432.7 251.4,431.1 C249.8,429.5 249.3,427.1 249.1,425.2Z" fill="#c6966b" stroke="#e8c8a2" stroke-width="1.1"/>
<path d="M267.5,414.9 C267.9,412.9 268.8,411.3 270.5,409.1 C272.2,406.9 275.1,404.6 277.8,401.7 C280.5,398.8 283.9,395.1 286.6,391.4 C289.3,387.7 291.7,383.6 294.0,379.6 C296.3,375.6 298.7,370.4 300.4,367.5 C302.1,364.6 302.8,364.1 304.1,362.4 C305.5,360.7 307.0,358.9 308.5,357.2 C310.0,355.5 311.3,353.7 312.9,352.1 C314.5,350.5 316.1,349.2 318.1,347.6 C320.1,346.0 322.9,343.6 325.0,342.5 C327.1,341.4 328.7,341.3 331.0,340.8 C333.3,340.3 335.9,339.9 338.6,339.7 C341.3,339.4 344.2,339.2 347.1,339.3 C350.0,339.4 352.4,339.4 355.7,340.1 C359.0,340.8 362.3,341.8 367.0,343.5 C371.7,345.2 379.1,347.5 383.8,350.2 C388.5,352.9 391.5,356.2 395.0,359.5 C398.5,362.8 402.1,366.7 404.9,369.8 C407.7,372.9 409.1,375.6 411.6,378.1 C414.1,380.6 417.1,382.5 419.8,384.7 C422.6,386.9 425.6,389.1 428.1,391.3 C430.6,393.5 433.1,395.4 434.7,397.9 C436.3,400.4 437.7,404.0 438.0,406.2 C438.3,408.4 438.0,409.5 436.4,411.2 C434.8,412.9 432.2,414.8 428.1,416.2 C424.0,417.6 417.1,418.7 411.6,419.5 C406.1,420.3 401.9,420.5 395.0,421.1 C388.1,421.7 379.2,422.8 370.0,423.3 C360.8,423.8 349.3,424.1 340.0,424.3 C330.7,424.5 321.7,424.4 314.0,424.5 C306.3,424.6 299.5,424.5 294.0,424.6 C288.5,424.7 284.6,425.2 280.8,425.2 C277.0,425.2 273.3,425.3 271.2,424.6 C269.1,423.9 268.9,422.4 268.3,420.8 C267.7,419.2 267.1,416.8 267.5,414.9Z" fill="none" stroke="#dab088" stroke-width="2.4"/>
<path d="M267.5,414.9 C267.9,412.9 268.8,411.3 270.5,409.1 C272.2,406.9 275.1,404.6 277.8,401.7 C280.5,398.8 283.9,395.1 286.6,391.4 C289.3,387.7 291.7,383.6 294.0,379.6 C296.3,375.6 298.7,370.4 300.4,367.5 C302.1,364.6 302.8,364.1 304.1,362.4 C305.5,360.7 307.0,358.9 308.5,357.2 C310.0,355.5 311.3,353.7 312.9,352.1 C314.5,350.5 316.1,349.2 318.1,347.6 C320.1,346.0 322.9,343.6 325.0,342.5 C327.1,341.4 328.7,341.3 331.0,340.8 C333.3,340.3 335.9,339.9 338.6,339.7 C341.3,339.4 344.2,339.2 347.1,339.3 C350.0,339.4 352.4,339.4 355.7,340.1 C359.0,340.8 362.3,341.8 367.0,343.5 C371.7,345.2 379.1,347.5 383.8,350.2 C388.5,352.9 391.5,356.2 395.0,359.5 C398.5,362.8 402.1,366.7 404.9,369.8 C407.7,372.9 409.1,375.6 411.6,378.1 C414.1,380.6 417.1,382.5 419.8,384.7 C422.6,386.9 425.6,389.1 428.1,391.3 C430.6,393.5 433.1,395.4 434.7,397.9 C436.3,400.4 437.7,404.0 438.0,406.2 C438.3,408.4 438.0,409.5 436.4,411.2 C434.8,412.9 432.2,414.8 428.1,416.2 C424.0,417.6 417.1,418.7 411.6,419.5 C406.1,420.3 401.9,420.5 395.0,421.1 C388.1,421.7 379.2,422.8 370.0,423.3 C360.8,423.8 349.3,424.1 340.0,424.3 C330.7,424.5 321.7,424.4 314.0,424.5 C306.3,424.6 299.5,424.5 294.0,424.6 C288.5,424.7 284.6,425.2 280.8,425.2 C277.0,425.2 273.3,425.3 271.2,424.6 C269.1,423.9 268.9,422.4 268.3,420.8 C267.7,419.2 267.1,416.8 267.5,414.9Z" fill="#773608"/>
<g clip-path="url(#cmed)">
<g filter="url(#blur35)" fill="#b55a0c" opacity="0.95">
<ellipse cx="338" cy="352" rx="16" ry="9"/>
<ellipse cx="367" cy="349" rx="10" ry="6"/>
<ellipse cx="313" cy="377" rx="16" ry="6"/>
<ellipse cx="362" cy="383" rx="20" ry="6"/>
<ellipse cx="388" cy="366" rx="13" ry="6"/>
<ellipse cx="310" cy="408" rx="15" ry="7"/>
<ellipse cx="368" cy="407" rx="15" ry="6"/>
<ellipse cx="403" cy="395" rx="11" ry="6"/>
<ellipse cx="421" cy="406" rx="9" ry="5"/>
<ellipse cx="284" cy="410" rx="10" ry="6"/>
</g>
<g filter="url(#blur3)" fill="#451b04" opacity="0.85">
<ellipse cx="340" cy="371" rx="8" ry="5"/>
<ellipse cx="311" cy="392" rx="10" ry="4"/>
<ellipse cx="350" cy="420" rx="30" ry="4"/>
<ellipse cx="318" cy="360" rx="6" ry="4"/>
<ellipse cx="375" cy="358" rx="6" ry="4"/>
<ellipse cx="403" cy="381" rx="6" ry="3"/>
<ellipse cx="387" cy="393" rx="6" ry="3"/>
<ellipse cx="345" cy="396" rx="8" ry="3"/>
</g>
<path d="M267.5,414.9 C267.9,412.9 268.8,411.3 270.5,409.1 C272.2,406.9 275.1,404.6 277.8,401.7 C280.5,398.8 283.9,395.1 286.6,391.4 C289.3,387.7 291.7,383.6 294.0,379.6 C296.3,375.6 298.7,370.4 300.4,367.5 C302.1,364.6 302.8,364.1 304.1,362.4 C305.5,360.7 307.0,358.9 308.5,357.2 C310.0,355.5 311.3,353.7 312.9,352.1 C314.5,350.5 316.1,349.2 318.1,347.6 C320.1,346.0 322.9,343.6 325.0,342.5 C327.1,341.4 328.7,341.3 331.0,340.8 C333.3,340.3 335.9,339.9 338.6,339.7 C341.3,339.4 344.2,339.2 347.1,339.3 C350.0,339.4 352.4,339.4 355.7,340.1 C359.0,340.8 362.3,341.8 367.0,343.5 C371.7,345.2 379.1,347.5 383.8,350.2 C388.5,352.9 391.5,356.2 395.0,359.5 C398.5,362.8 402.1,366.7 404.9,369.8 C407.7,372.9 409.1,375.6 411.6,378.1 C414.1,380.6 417.1,382.5 419.8,384.7 C422.6,386.9 425.6,389.1 428.1,391.3 C430.6,393.5 433.1,395.4 434.7,397.9 C436.3,400.4 437.7,404.0 438.0,406.2 C438.3,408.4 438.0,409.5 436.4,411.2 C434.8,412.9 432.2,414.8 428.1,416.2 C424.0,417.6 417.1,418.7 411.6,419.5 C406.1,420.3 401.9,420.5 395.0,421.1 C388.1,421.7 379.2,422.8 370.0,423.3 C360.8,423.8 349.3,424.1 340.0,424.3 C330.7,424.5 321.7,424.4 314.0,424.5 C306.3,424.6 299.5,424.5 294.0,424.6 C288.5,424.7 284.6,425.2 280.8,425.2 C277.0,425.2 273.3,425.3 271.2,424.6 C269.1,423.9 268.9,422.4 268.3,420.8 C267.7,419.2 267.1,416.8 267.5,414.9Z" fill="none" stroke="#4a1d04" stroke-width="5" opacity="0.5" filter="url(#blur2)"/>
</g>
<text x="346.2" y="399.2" text-anchor="middle" font-weight="bold" font-size="13" fill="#fff8ec" textLength="48.7" lengthAdjust="spacingAndGlyphs">Medulla</text>
<text x="225.2" y="451.5" font-weight="bold" font-size="12.5" fill="#150a04" stroke="#150a04" stroke-width="0.45" textLength="39.5" lengthAdjust="spacingAndGlyphs">Cortex</text>
<path d="M274.6,425.1 H268.7 V467.5" fill="none" stroke="#222" stroke-width="1.2"/>

<circle cx="344.1" cy="222" r="43.8" fill="url(#gb1)"/><ellipse cx="323.1" cy="192.7" rx="10.5" ry="3.3" transform="rotate(-32 323.1 192.7)" fill="#fff" opacity="0.38" filter="url(#blur1)"/><text font-weight="bold" font-size="17" fill="#000" stroke="#000" stroke-width="0.6"><textPath href="#pb1" startOffset="50%" text-anchor="middle" textLength="85" lengthAdjust="spacingAndGlyphs">Androgens</textPath></text><text x="345.5" y="218" text-anchor="middle" font-size="11.4" fill="#0a2234" stroke="#0a2234" stroke-width="0.25" textLength="57.6" lengthAdjust="spacingAndGlyphs">Estrogens &amp;</text><text x="345.8" y="231.5" text-anchor="middle" font-size="11.4" fill="#0a2234" stroke="#0a2234" stroke-width="0.25" textLength="62.1" lengthAdjust="spacingAndGlyphs">Testosterone</text><circle cx="196.4" cy="283.6" r="43.9" fill="url(#gb2)"/><ellipse cx="175.3" cy="254.2" rx="10.5" ry="3.3" transform="rotate(-32 175.3 254.2)" fill="#fff" opacity="0.38" filter="url(#blur1)"/><text font-weight="bold" font-size="17" fill="#000" stroke="#000" stroke-width="0.6"><textPath href="#pb2" startOffset="50%" text-anchor="middle" textLength="119" lengthAdjust="spacingAndGlyphs">Glucocorticoids</textPath></text><text x="197.3" y="280.3" text-anchor="middle" font-size="11.4" fill="#0e1d3a" stroke="#0e1d3a" stroke-width="0.25" textLength="47.7" lengthAdjust="spacingAndGlyphs">Cortisol &amp;</text><text x="197" y="293.3" text-anchor="middle" font-size="11.4" fill="#0e1d3a" stroke="#0e1d3a" stroke-width="0.25" textLength="47.3" lengthAdjust="spacingAndGlyphs">Cortisone</text><circle cx="91.8" cy="386.7" r="43.7" fill="url(#gb3)"/><ellipse cx="70.8" cy="357.4" rx="10.5" ry="3.3" transform="rotate(-32 70.8 357.4)" fill="#fff" opacity="0.38" filter="url(#blur1)"/><text font-weight="bold" font-size="17" fill="#000" stroke="#000" stroke-width="0.6"><textPath href="#pb3" startOffset="50%" text-anchor="middle" textLength="143" lengthAdjust="spacingAndGlyphs">Mineralocorticoids</textPath></text><text x="92.9" y="385.6" text-anchor="middle" font-size="11.4" fill="#0e1d3a" stroke="#0e1d3a" stroke-width="0.25" textLength="69.8" lengthAdjust="spacingAndGlyphs">Aldosterone &amp;</text><text x="92.2" y="398.7" text-anchor="middle" font-size="11.4" fill="#0e1d3a" stroke="#0e1d3a" stroke-width="0.25" textLength="72.9" lengthAdjust="spacingAndGlyphs">Corticosterone</text><circle cx="516.7" cy="261" r="43.8" fill="url(#gb4)"/><ellipse cx="495.7" cy="231.7" rx="10.5" ry="3.3" transform="rotate(-32 495.7 231.7)" fill="#fff" opacity="0.38" filter="url(#blur1)"/><text font-weight="bold" font-size="17" fill="#000" stroke="#000" stroke-width="0.6"><textPath href="#pb4" startOffset="50%" text-anchor="middle" textLength="123" lengthAdjust="spacingAndGlyphs">Catecholamines</textPath></text><text x="516.7" y="257.7" text-anchor="middle" font-size="11.4" fill="#082630" stroke="#082630" stroke-width="0.25" textLength="69.8" lengthAdjust="spacingAndGlyphs">Epinephrine &amp;</text><text x="516.6" y="271.2" text-anchor="middle" font-size="11.4" fill="#082630" stroke="#082630" stroke-width="0.25" textLength="77.8" lengthAdjust="spacingAndGlyphs">Norepinephrine</text><circle cx="617.25" cy="364.2" r="43.6" fill="url(#gb5)"/><ellipse cx="596.3" cy="335.0" rx="10.5" ry="3.3" transform="rotate(-32 596.3 335.0)" fill="#fff" opacity="0.38" filter="url(#blur1)"/><text font-weight="bold" font-size="17.5" fill="#000" stroke="#000" stroke-width="0.6"><textPath href="#pb5" startOffset="50%" text-anchor="middle" textLength="67" lengthAdjust="spacingAndGlyphs">Peptides</textPath></text><text x="617.4" y="363.4" text-anchor="middle" font-size="11.4" fill="#082e0c" stroke="#082e0c" stroke-width="0.25" textLength="65.6" lengthAdjust="spacingAndGlyphs">Somatostatin</text><text x="617.4" y="376.9" text-anchor="middle" font-size="11.4" fill="#082e0c" stroke="#082e0c" stroke-width="0.25" textLength="69.4" lengthAdjust="spacingAndGlyphs">&amp; Substance P</text>

<g stroke="#333" stroke-width="1" fill="none">
<path d="M344.6,269 V332.9"/>
<path d="M227,320.1 L273.2,352.6"/>
<path d="M138.7,403.3 L192.9,429.9"/>
<path d="M484.9,301 L407.4,383"/>
<path d="M568.8,372.2 L426.8,410.9"/>
<path d="M197.6,465.9 L235.9,492.7"/>
<path d="M343.3,446.3 L376.9,491.8"/>
<path d="M421,425.1 L520.6,494.5"/>
</g>
<g fill="#000">
<circle cx="344.2" cy="332.9" r="2.3"/><circle cx="273.2" cy="352.6" r="2.3"/><circle cx="192.9" cy="429.9" r="2.3"/>
<circle cx="407.4" cy="383" r="2.3"/><circle cx="426.8" cy="410.9" r="2.3"/><circle cx="421" cy="425.1" r="2.3"/>
<circle cx="343.3" cy="446.3" r="2.3"/><circle cx="197.6" cy="465.9" r="2.3"/>
</g>
<g font-weight="bold" font-size="13" fill="#784412" stroke="#784412" stroke-width="0.35">
<text x="235.7" y="502.4" textLength="109.2" lengthAdjust="spacingAndGlyphs">Zona glomerulosa</text>
<text x="379.6" y="502.4" textLength="97.6" lengthAdjust="spacingAndGlyphs">Zona fasciculata</text>
<text x="525" y="502.4" textLength="91.8" lengthAdjust="spacingAndGlyphs">Zona reticularis</text>
</g>
</svg>
</body></html>
